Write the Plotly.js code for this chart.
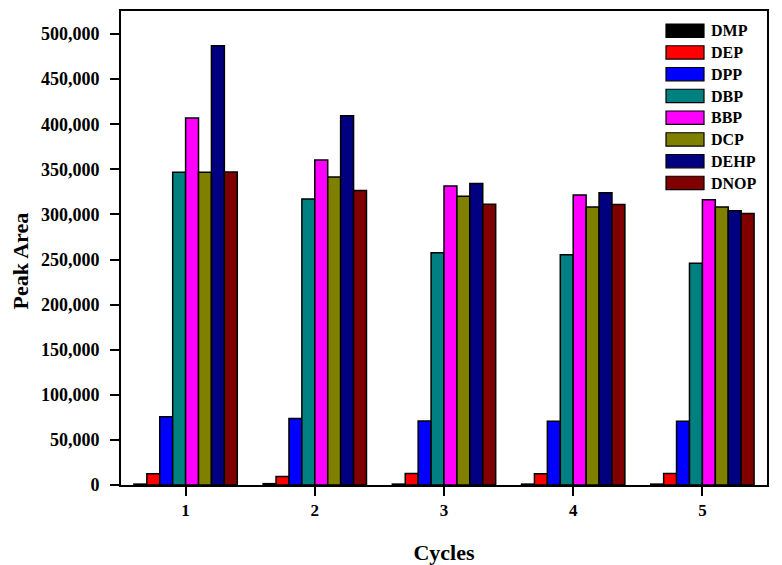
<!DOCTYPE html>
<html>
<head>
<meta charset="utf-8">
<script src="https://cdn.plot.ly/plotly-3.0.1.min.js"></script>
<style>html,body{margin:0;padding:0;background:#fff;}#chart{width:782px;height:565px;}</style>
</head>
<body>
<div id="chart"></div>
<script>
const cycles = [1, 2, 3, 4, 5];
const seriesNames = ["DMP", "DEP", "DPP", "DBP", "BBP", "DCP", "DEHP", "DNOP"];
const seriesColors = ["#000000", "#FF0000", "#0000FF", "#008080", "#FF00FF", "#808000", "#000080", "#800000"];
const DMP  = [1000, 1500, 1000, 1000, 1000];
const DEP  = [12500, 9300, 12800, 12600, 12800];
const DPP  = [75700, 73800, 71000, 70800, 70800];
const DBP  = [346700, 317000, 257500, 255400, 245800];
const BBP  = [407000, 360200, 331400, 321500, 316300];
const DCP  = [346800, 341400, 320000, 308200, 308200];
const DEHP = [487000, 409300, 334300, 324000, 304100];
const DNOP = [347000, 326600, 311300, 311100, 301100];
const seriesValues = [DMP, DEP, DPP, DBP, BBP, DCP, DEHP, DNOP];
const yTickVals = [0, 50000, 100000, 150000, 200000, 250000, 300000, 350000, 400000, 450000, 500000];
const xTitle = "Cycles";
const yTitle = "Peak Area";

const font = "'Liberation Serif', 'Times New Roman', serif";

const W = 782, H = 565;
const M = { l: 121, r: 15, t: 11, b: 80 };
const plotW = W - M.l - M.r, plotH = H - M.t - M.b;
const px2x = p => (p - M.l) / plotW;
const px2y = p => (H - M.b - p) / plotH;

const traces = seriesNames.map((name, i) => ({
  type: "bar",
  name: name,
  x: cycles,
  y: seriesValues[i],
  marker: { color: seriesColors[i], line: { color: "#000000", width: 1.5 } }
}));

// Legend drawn with wide swatches like the original
const legShapes = [], legAnn = [];
seriesNames.forEach((name, i) => {
  const top = 24 + i * 21.75;
  legShapes.push({
    type: "rect", xref: "paper", yref: "paper",
    x0: px2x(666), x1: px2x(704), y0: px2y(top), y1: px2y(top + 13.3),
    fillcolor: seriesColors[i], line: { color: "#000", width: 1.2 }
  });
  legAnn.push({
    xref: "paper", yref: "paper", x: px2x(709), y: px2y(top + 6.8),
    xanchor: "left", yanchor: "middle", showarrow: false, text: name,
    font: { family: font, size: 16, color: "#000", weight: "bold" }
  });
});
// y-axis title placed like the original (slightly below centre)
legAnn.push({
  xref: "paper", yref: "paper", x: px2x(20), y: px2y(261.5),
  xanchor: "center", yanchor: "middle", showarrow: false, textangle: -90,
  text: yTitle, font: { family: font, size: 22, color: "#000", weight: "bold" }
});

const layout = {
  width: W,
  height: H,
  margin: M,
  paper_bgcolor: "#ffffff",
  plot_bgcolor: "#ffffff",
  barmode: "group",
  bargap: 0.2,
  bargroupgap: 0,
  font: { family: font, color: "#000000", size: 18 },
  showlegend: false,
  shapes: legShapes,
  annotations: legAnn,
  xaxis: {
    range: [0.5, 5.5],
    tickmode: "array",
    tickvals: cycles,
    ticktext: cycles.map(String),
    ticks: "outside", ticklen: 9, tickwidth: 2, tickcolor: "#000",
    showline: true, linecolor: "#000", linewidth: 2, mirror: true,
    showgrid: false, zeroline: false,
    tickfont: { family: font, size: 17, weight: "bold" },
    title: { text: xTitle, font: { family: font, size: 22, weight: "bold" }, standoff: 26 }
  },
  yaxis: {
    range: [0, 525500],
    tickmode: "array",
    tickvals: yTickVals,
    ticktext: yTickVals.map(v => v.toLocaleString("en-US")),
    ticks: "outside", ticklen: 9, tickwidth: 2, tickcolor: "#000",
    ticklabelstandoff: 7,
    showline: true, linecolor: "#000", linewidth: 2, mirror: true,
    showgrid: false, zeroline: false,
    tickfont: { family: font, size: 18, weight: "bold" }
  }
};

Plotly.newPlot("chart", traces, layout, { displayModeBar: false, staticPlot: true });
</script>
</body>
</html>
